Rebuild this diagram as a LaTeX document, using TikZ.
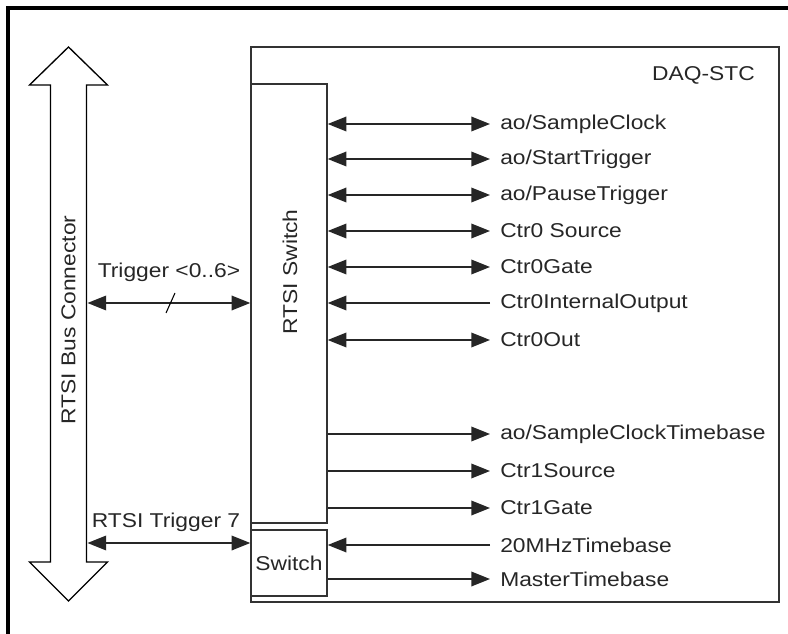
\documentclass[tikz,border=0pt]{standalone}
\usepackage{fontspec}
\setmainfont[FakeStretch=1.14]{Liberation Sans}
\usetikzlibrary{arrows.meta,fit}
\begin{document}
\begin{tikzpicture}[x=0.75pt,y=-0.75pt,
  every node/.style={font=\fontsize{15}{18}\selectfont, text=black!85},
  tip/.style={-{Triangle[length=14pt,width=11pt]}},
  dbl/.style={{Triangle[length=14pt,width=11pt]}-{Triangle[length=14pt,width=11pt]}},
  wire/.style={line width=1pt, draw=black!85},
  boxline/.style={draw=black!80, line width=1.1pt, inner sep=0pt},
  lbl/.style={anchor=west, inner sep=0pt}]
\useasboundingbox (0,0) rectangle (788,634);
% outer frame (left and top edges only)
\draw[line width=2.4pt] (8,634) -- (8,8) -- (788,8);

% RTSI bus connector (double arrow outline)
\draw[line width=1pt] (68.5,47) -- (107.5,85) -- (86.5,85) -- (86.5,562) -- (107.5,562)
  -- (68.5,601) -- (29.5,562) -- (50.5,562) -- (50.5,85) -- (29.5,85) -- cycle;
\node[rotate=90] (busl) at (68.5,320) {RTSI Bus Connector};
\coordinate (busR1) at (87.5,303);
\coordinate (busR2) at (87.5,543);

% boxes
\coordinate (d1) at (251,47); \coordinate (d2) at (779,602);
\node[boxline, fit=(d1)(d2)] (daq) {};
\coordinate (r1) at (251,84); \coordinate (r2) at (327,523);
\node[boxline, fit=(r1)(r2)] (rsw) {};
\coordinate (s1) at (251,530); \coordinate (s2) at (327,596);
\node[boxline, fit=(s1)(s2)] (sw) {};
\node at (sw.center) (swl) {Switch};
\node[rotate=90] (rswl) at (290,272) {RTSI Switch};
\node[anchor=east, inner sep=0pt] (daql) at (755,75) {DAQ-STC};

% left connections
\node (trl) at (169,272) {Trigger <0..6>};
\draw[wire, dbl] (busR1) -- (busR1 -| rsw.west);
\draw[line width=0.8pt] (166,313) -- (175,293);
\node (t7l) at (166,522) {RTSI Trigger 7};
\draw[wire, dbl] (busR2) -- (busR2 -| sw.west);

% right labels
\node[lbl] (l1) at (500,124) {ao/SampleClock};
\node[lbl] (l2) at (500,159) {ao/StartTrigger};
\node[lbl] (l3) at (500,195) {ao/PauseTrigger};
\node[lbl] (l4) at (500,231) {Ctr0 Source};
\node[lbl] (l5) at (500,267) {Ctr0Gate};
\node[lbl] (l6) at (500,303) {Ctr0InternalOutput};
\node[lbl] (l7) at (500,340) {Ctr0Out};
\node[lbl] (l8) at (500,434) {ao/SampleClockTimebase};
\node[lbl] (l9) at (500,471) {Ctr1Source};
\node[lbl] (l10) at (500,508) {Ctr1Gate};
\node[lbl] (l11) at (500,545) {20MHzTimebase};
\node[lbl] (l12) at (500,579) {MasterTimebase};

\foreach \n in {1,2,3,4,5,7}
  \draw[wire, dbl] (rsw.east |- l\n.west) -- ([xshift=-7.5pt]l\n.west);
\draw[wire, tip] ([xshift=-7.5pt]l6.west) -- (rsw.east |- l6.west);
\foreach \n in {8,9,10}
  \draw[wire, tip] (rsw.east |- l\n.west) -- ([xshift=-7.5pt]l\n.west);
\draw[wire, tip] ([xshift=-7.5pt]l11.west) -- (sw.east |- l11.west);
\draw[wire, tip] (sw.east |- l12.west) -- ([xshift=-7.5pt]l12.west);
\end{tikzpicture}
\end{document}
